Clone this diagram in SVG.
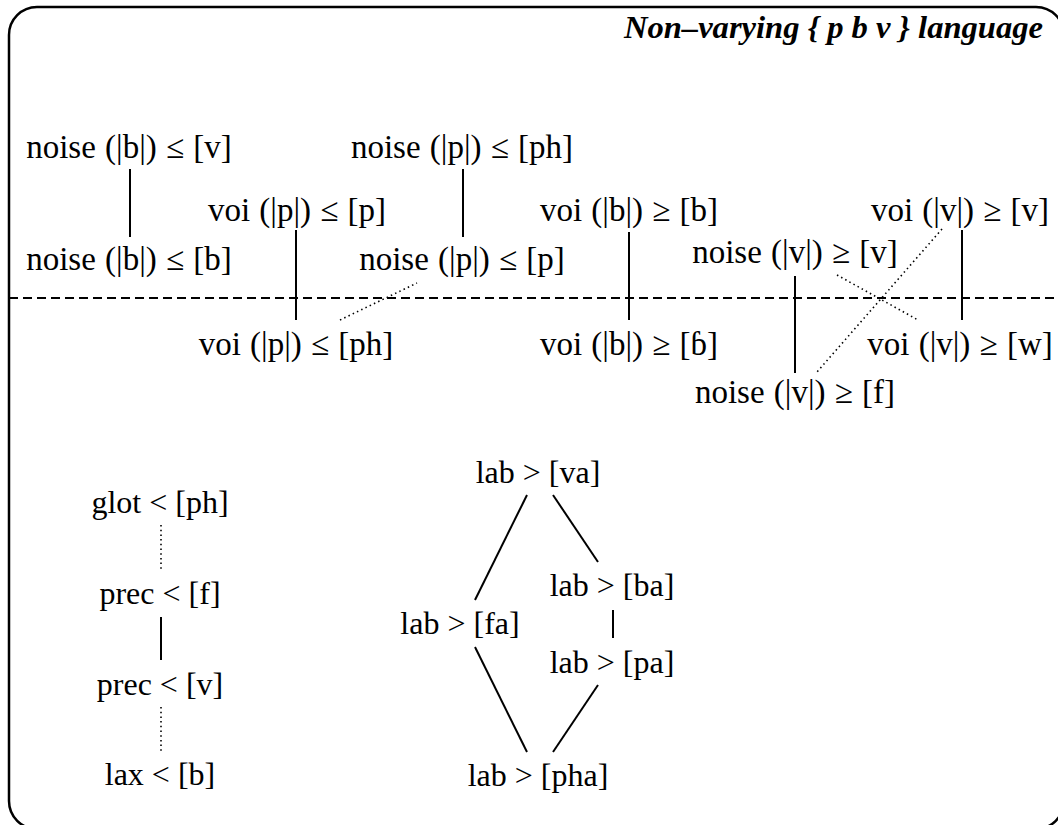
<svg xmlns="http://www.w3.org/2000/svg" width="1058" height="825" viewBox="0 0 1058 825">
<style>
.t{font-family:"Liberation Serif","Times New Roman",serif;font-size:32px;fill:#000;text-anchor:middle}
.b{font-size:33px;word-spacing:1px}
.title{font-family:"Liberation Serif","Times New Roman",serif;font-size:32.6px;font-weight:bold;font-style:italic;fill:#000;text-anchor:end}
.s{stroke:#000;stroke-width:2;fill:none}
.d{stroke:#000;stroke-width:1.6;stroke-dasharray:1.5 3.2;fill:none}
.dash{stroke:#000;stroke-width:2;stroke-dasharray:9 5;fill:none}
</style>
<rect x="9" y="7" width="1055" height="822" rx="28" ry="28" fill="#fff" stroke="#000" stroke-width="2.5"/>
<text class="title" x="1043" y="38">Non–varying { p b v } language</text>
<line class="dash" x1="9" y1="298" x2="1058" y2="298"/>
<g id="connectors">
<line class="s" x1="130" y1="169" x2="130" y2="237"/>
<line class="s" x1="296" y1="230" x2="296" y2="320"/>
<line class="s" x1="463" y1="169" x2="463" y2="237"/>
<line class="d" x1="340" y1="320" x2="417" y2="283"/>
<line class="s" x1="629" y1="232" x2="629" y2="320"/>
<line class="s" x1="795" y1="276" x2="795" y2="373"/>
<line class="s" x1="962" y1="230" x2="962" y2="320"/>
<line class="d" x1="942" y1="229" x2="817" y2="372"/>
<line class="d" x1="837" y1="275" x2="918" y2="320"/>
<line class="d" x1="161" y1="525" x2="161" y2="570"/>
<line class="s" x1="161" y1="617" x2="161" y2="660"/>
<line class="d" x1="161" y1="707" x2="161" y2="752"/>
<line class="s" x1="527" y1="495" x2="475" y2="600"/>
<line class="s" x1="553" y1="495" x2="598" y2="562"/>
<line class="s" x1="613" y1="610" x2="613" y2="638"/>
<line class="s" x1="475" y1="647" x2="527" y2="752"/>
<line class="s" x1="598" y1="685" x2="553" y2="752"/>
</g>
<g id="n_noise_b_v"><text class="t b" x="129" y="158">noise (|b|) ≤ [v]</text></g>
<g id="n_noise_b_b"><text class="t b" x="129" y="270">noise (|b|) ≤ [b]</text></g>
<g id="n_voi_p_p"><text class="t b" x="297" y="221">voi (|p|) ≤ [p]</text></g>
<g id="n_voi_p_ph"><text class="t b" x="296" y="355">voi (|p|) ≤ [ph]</text></g>
<g id="n_noise_p_ph"><text class="t b" x="462" y="158">noise (|p|) ≤ [ph]</text></g>
<g id="n_noise_p_p"><text class="t b" x="462" y="270">noise (|p|) ≤ [p]</text></g>
<g id="n_voi_b_b"><text class="t b" x="629" y="221">voi (|b|) ≥ [b]</text></g>
<g id="n_voi_b_imp"><text class="t b" x="629" y="355">voi (|b|) ≥ [ɓ]</text></g>
<g id="n_noise_v_v"><text class="t b" x="795" y="263">noise (|v|) ≥ [v]</text></g>
<g id="n_noise_v_f"><text class="t b" x="795" y="403">noise (|v|) ≥ [f]</text></g>
<g id="n_voi_v_v"><text class="t b" x="960" y="221">voi (|v|) ≥ [v]</text></g>
<g id="n_voi_v_w"><text class="t b" x="960" y="355">voi (|v|) ≥ [w]</text></g>
<g id="n_glot"><text class="t" x="160" y="513">glot &lt; [ph]</text></g>
<g id="n_prec_f"><text class="t" x="160" y="604">prec &lt; [f]</text></g>
<g id="n_prec_v"><text class="t" x="160" y="695">prec &lt; [v]</text></g>
<g id="n_lax"><text class="t" x="160" y="785">lax &lt; [b]</text></g>
<g id="n_lab_va"><text class="t" x="538" y="483">lab &gt; [va]</text></g>
<g id="n_lab_ba"><text class="t" x="612" y="596">lab &gt; [ba]</text></g>
<g id="n_lab_fa"><text class="t" x="460" y="634">lab &gt; [fa]</text></g>
<g id="n_lab_pa"><text class="t" x="612" y="673">lab &gt; [pa]</text></g>
<g id="n_lab_pha"><text class="t" x="538" y="786">lab &gt; [pha]</text></g>
</svg>
